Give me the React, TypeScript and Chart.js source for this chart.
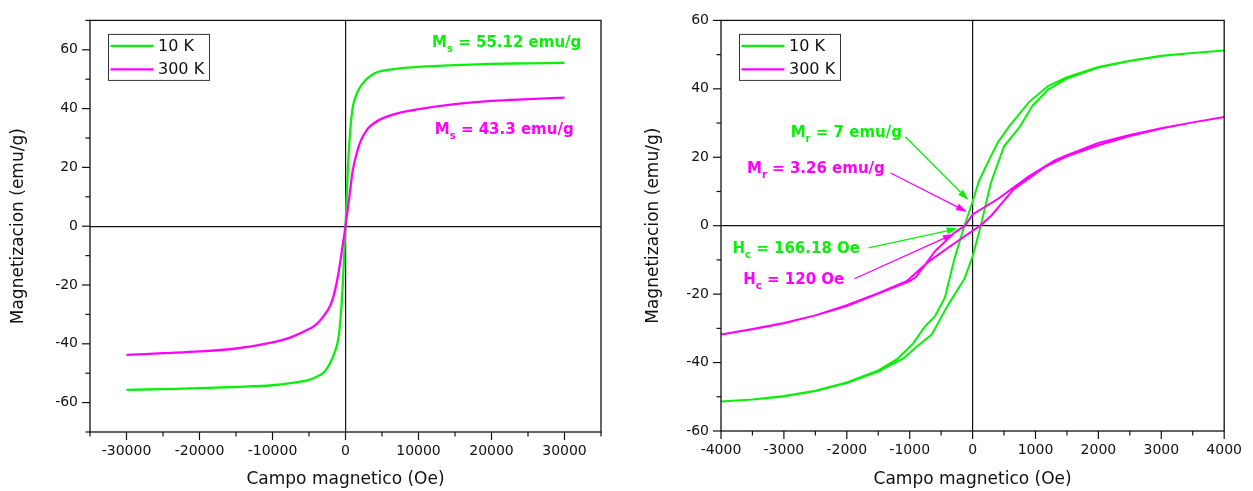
import React, { useEffect, useRef } from 'react';
import { Chart, registerables } from 'chart.js';

Chart.register(...registerables);

const FONT = '"DejaVu Sans", Arial, sans-serif';
const GREEN = '#0BEF0B';
const MAGENTA = '#FF00FF';
const INK = '#111111';

const seriesLabels = ['10 K', '300 K'];

// ---- Left panel: full field sweep (Oe, emu/g)
const wideField10K = [-30000, -25000, -20000, -15000, -10000, -7500, -5000, -4000, -3000, -2500, -2000, -1500, -1000, -700, -400, -200, 0, 200, 400, 700, 1000, 1500, 2000, 2500, 3000, 4000, 5000, 7500, 10000, 15000, 20000, 25000, 30000];
const wideM10K = [-55.7, -55.4, -55.1, -54.7, -54.1, -53.4, -52.3, -51.3, -49.8, -48.2, -46.0, -43.0, -38.5, -32.0, -21.0, -11.0, 0, 12.0, 23.0, 34.0, 40.5, 44.8, 47.3, 49.0, 50.3, 52.0, 52.8, 53.7, 54.2, 54.8, 55.2, 55.4, 55.6];

const wideField300K = [-30000, -25000, -20000, -15000, -10000, -7500, -5000, -4000, -3000, -2000, -1500, -1000, -500, 0, 500, 1000, 1500, 2000, 3000, 4000, 5000, 7500, 10000, 15000, 20000, 25000, 30000];
const wideM300K = [-43.8, -43.2, -42.6, -41.6, -39.5, -37.8, -35.0, -33.4, -30.6, -26.5, -22.5, -16.5, -8.5, 0, 9.5, 19.0, 24.5, 28.5, 33.0, 35.2, 36.6, 38.6, 39.8, 41.5, 42.6, 43.2, 43.7];

// ---- Right panel: low-field hysteresis loops (descending then ascending branch)
const loopField10K = [4000, 3500, 3000, 2500, 2000, 1500, 1200, 900, 600, 400, 250, 100, 0, -130, -290, -440, -600, -760, -950, -1200, -1500, -2000, -2500, -3000, -3500, -4000,
  -3500, -3000, -2500, -2000, -1500, -1100, -900, -650, -400, -130, 0, 130, 290, 500, 750, 950, 1200, 1500, 2000, 2500, 3000, 3500, 4000];
const loopM10K = [51.2, 50.5, 49.7, 48.2, 46.4, 43.4, 40.8, 36.2, 29.5, 24.3, 18.8, 13.0, 7.0, 0, -9.7, -21.0, -26.5, -29.5, -34.5, -39.0, -42.3, -45.8, -48.2, -49.8, -50.8, -51.4,
  -50.8, -49.9, -48.3, -46.0, -42.6, -38.8, -35.5, -31.8, -23.5, -15.5, -9.0, 0, 12.5, 23.2, 28.9, 35.0, 39.8, 43.0, 46.2, 48.1, 49.6, 50.5, 51.2];

const loopField300K = [4000, 3500, 3000, 2500, 2000, 1500, 1300, 900, 400, 0, -120, -300, -600, -900, -1000, -1500, -2000, -2500, -3000, -3500, -4000,
  -3500, -3000, -2500, -2000, -1500, -1050, -700, -340, 0, 120, 300, 650, 1150, 1500, 2000, 2500, 3000, 3500, 4000];
const loopM300K = [31.8, 30.2, 28.5, 26.5, 24.2, 20.6, 19.0, 14.5, 7.8, 3.3, 0, -2.2, -7.5, -15.0, -16.2, -19.8, -23.5, -26.2, -28.5, -30.3, -31.8,
  -30.2, -28.4, -26.2, -23.2, -19.7, -16.2, -10.5, -5.8, -1.5, 0, 3.0, 10.6, 17.2, 20.3, 23.5, 26.2, 28.4, 30.2, 31.8];

// ---- Tick labels
const leftXLabels = [-30000, -20000, -10000, 0, 10000, 20000, 30000];
const leftYLabels = [-60, -40, -20, 0, 20, 40, 60];
const rightXLabels = [-4000, -3000, -2000, -1000, 0, 1000, 2000, 3000, 4000];
const rightYLabels = [-60, -40, -20, 0, 20, 40, 60];

const xTitle = 'Campo magnetico (Oe)';
const yTitle = 'Magnetizacion (emu/g)';

// ---- Annotations (anchored in data coordinates)
const leftNotes = [
  { sym: 'M', sub: 's', rest: ' = 55.12 emu/g', h: 22080, m: 62.7, color: GREEN },
  { sym: 'M', sub: 's', rest: ' = 43.3 emu/g', h: 21740, m: 33.3, color: MAGENTA },
];
const rightNotes = [
  { sym: 'M', sub: 'r', rest: ' = 7 emu/g', h: -2008, m: 27.5, color: GREEN },
  { sym: 'M', sub: 'r', rest: ' = 3.26 emu/g', h: -2491, m: 16.9, color: MAGENTA },
  { sym: 'H', sub: 'c', rest: ' = 166.18 Oe', h: -2804, m: -6.4, color: GREEN },
  { sym: 'H', sub: 'c', rest: ' = 120 Oe', h: -2843, m: -15.5, color: MAGENTA },
];
const rightArrows = [
  { h1: -1069, m1: 26.0, h2: -67, m2: 7.5, color: GREEN },
  { h1: -1304, m1: 15.4, h2: -89, m2: 4.05, color: MAGENTA },
  { h1: -1654, m1: -6.5, h2: -235, m2: -0.8, color: GREEN },
  { h1: -1878, m1: -15.5, h2: -297, m2: -2.4, color: MAGENTA },
];

function pairs(xs: number[], ys: number[]) {
  return xs.map((x, i) => ({ x, y: ys[i] }));
}

function drawNote(ctx: CanvasRenderingContext2D, chart: any, n: any) {
  const x = chart.scales.x.getPixelForValue(n.h);
  const y = chart.scales.y.getPixelForValue(n.m);
  const main = `bold 15px ${FONT}`;
  const sub = `bold 10px ${FONT}`;
  ctx.font = main;
  const w1 = ctx.measureText(n.sym).width;
  const w3 = ctx.measureText(n.rest).width;
  ctx.font = sub;
  const w2 = ctx.measureText(n.sub).width;
  let sx = x - (w1 + w2 + w3) / 2;
  const base = y + 5.5;
  ctx.fillStyle = n.color;
  ctx.textBaseline = 'alphabetic';
  ctx.textAlign = 'left';
  ctx.font = main;
  ctx.fillText(n.sym, sx, base);
  sx += w1;
  ctx.font = sub;
  ctx.fillText(n.sub, sx, base + 5);
  sx += w2;
  ctx.font = main;
  ctx.fillText(n.rest, sx, base);
}

function drawArrow(ctx: CanvasRenderingContext2D, chart: any, a: any) {
  const xs = chart.scales.x, ys = chart.scales.y;
  const x1 = xs.getPixelForValue(a.h1), y1 = ys.getPixelForValue(a.m1);
  const x2 = xs.getPixelForValue(a.h2), y2 = ys.getPixelForValue(a.m2);
  const ang = Math.atan2(y2 - y1, x2 - x1);
  const L = 11, W = 3.5;
  const c = Math.cos(ang), s = Math.sin(ang);
  const bx = x2 - L * c, by = y2 - L * s;
  ctx.strokeStyle = a.color;
  ctx.fillStyle = a.color;
  ctx.lineWidth = 1.3;
  ctx.beginPath();
  ctx.moveTo(x1, y1);
  ctx.lineTo(bx, by);
  ctx.stroke();
  ctx.beginPath();
  ctx.moveTo(x2, y2);
  ctx.lineTo(bx + W * s, by - W * c);
  ctx.lineTo(bx - W * s, by + W * c);
  ctx.closePath();
  ctx.fill();
}

function makePlugins(xMajor: number[], yMajor: number[], notes: any[], arrows: any[]) {
  return [{
    id: 'decor',
    afterDraw(chart: any) {
      const { ctx, chartArea: a, scales } = chart;
      ctx.save();
      // frame
      ctx.strokeStyle = INK;
      ctx.lineWidth = 1.3;
      ctx.strokeRect(a.left, a.top, a.right - a.left, a.bottom - a.top);
      // tick marks (outward), major longer
      ctx.lineWidth = 1.2;
      scales.x.ticks.forEach((t: any) => {
        const px = scales.x.getPixelForValue(t.value);
        const len = xMajor.includes(t.value) ? 8 : 4.5;
        ctx.beginPath();
        ctx.moveTo(px, a.bottom);
        ctx.lineTo(px, a.bottom + len);
        ctx.stroke();
      });
      scales.y.ticks.forEach((t: any) => {
        const py = scales.y.getPixelForValue(t.value);
        const len = yMajor.includes(t.value) ? 8 : 4.5;
        ctx.beginPath();
        ctx.moveTo(a.left, py);
        ctx.lineTo(a.left - len, py);
        ctx.stroke();
      });
      // legend
      const lx = a.left + 18.5, ly = a.top + 14;
      ctx.lineWidth = 1;
      ctx.strokeStyle = '#333';
      ctx.strokeRect(lx, ly, 101, 46);
      chart.data.datasets.forEach((d: any, i: number) => {
        const ry = ly + 11.5 + i * 23.5;
        ctx.strokeStyle = d.borderColor;
        ctx.lineWidth = 2.2;
        ctx.beginPath();
        ctx.moveTo(lx + 2, ry);
        ctx.lineTo(lx + 45, ry);
        ctx.stroke();
        ctx.fillStyle = INK;
        ctx.font = `16px ${FONT}`;
        ctx.textBaseline = 'middle';
        ctx.textAlign = 'left';
        ctx.fillText(d.label, lx + 49.5, ry + 0.5);
      });
      arrows.forEach((ar) => drawArrow(ctx, chart, ar));
      notes.forEach((n) => drawNote(ctx, chart, n));
      ctx.restore();
    },
  }];
}

function axes(o: any) {
  return {
    x: {
      type: 'linear',
      min: o.xMin, max: o.xMax,
      ticks: {
        stepSize: o.xStep, autoSkip: false, maxRotation: 0, minRotation: 0, padding: 11,
        color: INK, font: { family: FONT, size: 14 },
        callback: (v: number) => (o.xLabels.includes(v) ? String(v) : ''),
      },
      grid: {
        drawTicks: false,
        color: (c: any) => (c.tick && c.tick.value === 0 ? INK : 'rgba(0,0,0,0)'),
        lineWidth: 1.2,
      },
      border: { display: false },
      title: { display: true, text: xTitle, color: INK, font: { family: FONT, size: 17 }, padding: { top: 0, bottom: 1 } },
      afterFit: (s: any) => { s.height = o.xHeight; },
    },
    y: {
      type: 'linear',
      min: o.yMin, max: o.yMax,
      ticks: {
        stepSize: o.yStep, autoSkip: false, padding: 12,
        color: INK, font: { family: FONT, size: 14 },
        callback: (v: number) => (o.yLabels.includes(v) ? String(v) : ''),
      },
      grid: {
        drawTicks: false,
        color: (c: any) => (c.tick && c.tick.value === 0 ? INK : 'rgba(0,0,0,0)'),
        lineWidth: 1.2,
      },
      border: { display: false },
      title: { display: true, text: yTitle, color: INK, font: { family: FONT, size: 17 }, padding: { top: o.yTitlePad, bottom: 0 } },
      afterFit: (s: any) => { s.width = o.yWidth; },
    },
  };
}

function buildLeft(canvas: HTMLCanvasElement) {
  return new Chart(canvas, {
    type: 'scatter',
    data: {
      datasets: [
        { label: seriesLabels[0], data: pairs(wideField10K, wideM10K), borderColor: GREEN, backgroundColor: GREEN, showLine: true, pointRadius: 0, borderWidth: 2.3, cubicInterpolationMode: 'monotone', order: 1 },
        { label: seriesLabels[1], data: pairs(wideField300K, wideM300K), borderColor: MAGENTA, backgroundColor: MAGENTA, showLine: true, pointRadius: 0, borderWidth: 2.3, cubicInterpolationMode: 'monotone', order: 0 },
      ],
    },
    options: {
      animation: false,
      responsive: true,
      maintainAspectRatio: false,
      layout: { padding: { top: 15, right: 19, left: 0, bottom: 0 } },
      plugins: { legend: { display: false }, tooltip: { enabled: false } },
      scales: axes({ xMin: -35000, xMax: 35000, xStep: 5000, xLabels: leftXLabels, yMin: -70, yMax: 70, yStep: 10, yLabels: leftYLabels, yWidth: 90, xHeight: 59, yTitlePad: 8 }) as any,
    },
    plugins: makePlugins(leftXLabels, leftYLabels, leftNotes, []) as any,
  } as any);
}

function buildRight(canvas: HTMLCanvasElement) {
  return new Chart(canvas, {
    type: 'scatter',
    data: {
      datasets: [
        { label: seriesLabels[0], data: pairs(loopField10K, loopM10K), borderColor: GREEN, backgroundColor: GREEN, showLine: true, pointRadius: 0, borderWidth: 2, tension: 0, order: 1 },
        { label: seriesLabels[1], data: pairs(loopField300K, loopM300K), borderColor: MAGENTA, backgroundColor: MAGENTA, showLine: true, pointRadius: 0, borderWidth: 2, tension: 0, order: 0 },
      ],
    },
    options: {
      animation: false,
      responsive: true,
      maintainAspectRatio: false,
      layout: { padding: { top: 16, right: 21, left: 0, bottom: 0 } },
      plugins: { legend: { display: false }, tooltip: { enabled: false } },
      scales: axes({ xMin: -4000, xMax: 4000, xStep: 500, xLabels: rightXLabels, yMin: -60, yMax: 60, yStep: 10, yLabels: rightYLabels, yWidth: 96, xHeight: 60, yTitlePad: 18 }) as any,
    },
    plugins: makePlugins(rightXLabels, rightYLabels, rightNotes, rightArrows) as any,
  } as any);
}

function Panel(props: { left: number; width: number; build: (c: HTMLCanvasElement) => Chart }) {
  const ref = useRef<HTMLCanvasElement>(null);
  useEffect(() => {
    const chart = props.build(ref.current as HTMLCanvasElement);
    return () => chart.destroy();
  }, []);
  return (
    <div style={{ position: 'absolute', left: props.left, top: 0, width: props.width, height: 491 }}>
      <canvas ref={ref} />
    </div>
  );
}

export default function App() {
  return (
    <div style={{ position: 'absolute', left: 0, top: 0, width: 1253, height: 491, background: '#fff', overflow: 'hidden' }}>
      <Panel left={0} width={620} build={buildLeft} />
      <Panel left={625} width={628} build={buildRight} />
    </div>
  );
}
